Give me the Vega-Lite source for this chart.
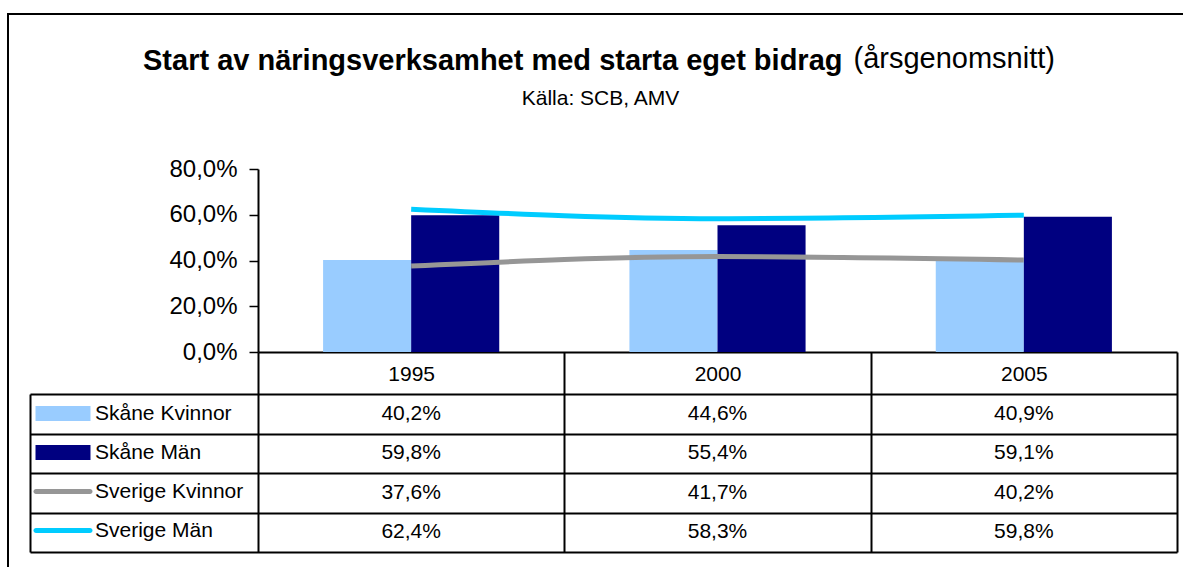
{
  "$schema": "https://vega.github.io/schema/vega-lite/v6.json",
  "width": 1178,
  "height": 556,
  "autosize": {"type": "none"},
  "padding": {"left": 8, "top": 14, "right": 0, "bottom": 0},
  "background": "white",
  "config": {
    "font": "Liberation Sans",
    "view": {"stroke": "#000000", "strokeWidth": 2},
    "locale": {"number": {"decimal": ",", "thousands": " ", "grouping": [3], "currency": ["", " kr"]}},
    "axis": {"labelColor": "#000000", "domainColor": "#000000", "tickColor": "#000000", "titleColor": "#000000", "grid": false}
  },
  "title": {
    "text": "Start av näringsverksamhet med starta eget bidrag",
    "anchor": "start",
    "frame": "group",
    "dx": 135,
    "offset": -85,
    "baseline": "alphabetic",
    "fontSize": 29,
    "fontWeight": "bold",
    "color": "#000000",
    "font": "Liberation Sans"
  },
  "data": {
    "values": [
      {"year": "1995", "region": "Skåne", "series": "Skåne Kvinnor", "value": 0.402},
      {"year": "1995", "region": "Skåne", "series": "Skåne Män", "value": 0.598},
      {"year": "1995", "region": "Sverige", "series": "Sverige Kvinnor", "value": 0.376},
      {"year": "1995", "region": "Sverige", "series": "Sverige Män", "value": 0.624},
      {"year": "2000", "region": "Skåne", "series": "Skåne Kvinnor", "value": 0.446},
      {"year": "2000", "region": "Skåne", "series": "Skåne Män", "value": 0.554},
      {"year": "2000", "region": "Sverige", "series": "Sverige Kvinnor", "value": 0.417},
      {"year": "2000", "region": "Sverige", "series": "Sverige Män", "value": 0.583},
      {"year": "2005", "region": "Skåne", "series": "Skåne Kvinnor", "value": 0.409},
      {"year": "2005", "region": "Skåne", "series": "Skåne Män", "value": 0.591},
      {"year": "2005", "region": "Sverige", "series": "Sverige Kvinnor", "value": 0.402},
      {"year": "2005", "region": "Sverige", "series": "Sverige Män", "value": 0.598}
    ]
  },
  "encoding": {
    "x": {
      "field": "year",
      "type": "nominal",
      "sort": ["1995", "2000", "2005"],
      "scale": {"type": "band", "range": [250, 1169], "paddingInner": 0, "paddingOuter": 0},
      "axis": {
        "orient": "bottom",
        "offset": -218,
        "tickBand": "extent",
        "tickSize": 200,
        "tickWidth": 2,
        "domainWidth": 2,
        "labelFontSize": 21,
        "labelPadding": -178,
        "labelBaseline": "middle",
        "labelAngle": 0,
        "title": null,
        "grid": false
      }
    }
  },
  "layer": [
    {
      "layer": [
        {
          "transform": [{"filter": {"field": "region", "equal": "Skåne"}}],
          "mark": {"type": "bar"},
          "encoding": {
            "xOffset": {
              "field": "series",
              "type": "nominal",
              "sort": ["Skåne Kvinnor", "Skåne Män"],
              "scale": {"paddingInner": 0, "paddingOuter": 0.739}
            },
            "y": {
              "field": "value",
              "type": "quantitative",
              "scale": {"domain": [0, 0.8], "range": [338, 155], "nice": false},
              "axis": {
                "orient": "left",
                "offset": -250,
                "values": [0, 0.2, 0.4, 0.6, 0.8],
                "format": ".1%",
                "labelFontSize": 24,
                "labelPadding": 12,
                "tickSize": 9,
                "tickWidth": 1.5,
                "domainWidth": 2,
                "grid": false,
                "title": "Källa: SCB, AMV",
                "titleAngle": 0,
                "titleX": 342,
                "titleY": 90,
                "titleAlign": "center",
                "titleBaseline": "alphabetic",
                "titleFontSize": 21,
                "titleFontWeight": "normal"
              }
            },
            "fill": {
              "field": "series",
              "type": "nominal",
              "scale": {"domain": ["Skåne Kvinnor", "Skåne Män"], "range": ["#99CCFF", "#000080"]},
              "legend": null
            }
          }
        },
        {
          "transform": [{"filter": {"field": "region", "equal": "Sverige"}}],
          "mark": {"type": "line", "strokeWidth": 5, "interpolate": "monotone"},
          "encoding": {
            "y": {"field": "value", "type": "quantitative"},
            "stroke": {
              "field": "series",
              "type": "nominal",
              "scale": {"domain": ["Sverige Kvinnor", "Sverige Män"], "range": ["#969696", "#00CCFF"]},
              "legend": null
            }
          }
        },
        {
          "mark": {"type": "point", "filled": true, "opacity": 0},
          "encoding": {
            "y": {"field": "value", "type": "quantitative"},
            "color": {
              "field": "series",
              "type": "nominal",
              "scale": {
                "domain": ["Skåne Kvinnor", "Skåne Män", "Sverige Kvinnor", "Sverige Män"],
                "range": ["#99CCFF", "#000080", "#969696", "#00CCFF"]
              },
              "legend": {
                "orient": "none",
                "legendX": 35.5,
                "legendY": 380,
                "title": null,
                "direction": "vertical",
                "symbolSize": 1521,
                "symbolStrokeWidth": 0,
                "symbolOpacity": 1,
                "rowPadding": 9,
                "labelOffset": 12.5,
                "labelFontSize": 21,
                "labelColor": "#000000",
                "labelLimit": 0,
                "padding": 0
              }
            },
            "shape": {
              "field": "series",
              "type": "nominal",
              "scale": {
                "domain": ["Skåne Kvinnor", "Skåne Män", "Sverige Kvinnor", "Sverige Män"],
                "range": [
                  "M-1.41,-0.385H1.41V0.385H-1.41Z",
                  "M-1.41,-0.385H1.41V0.385H-1.41Z",
                  "M-1.385,-0.128H1.385A0.128,0.128,0,0,1,1.385,0.128H-1.385A0.128,0.128,0,0,1,-1.385,-0.128Z",
                  "M-1.385,-0.128H1.385A0.128,0.128,0,0,1,1.385,0.128H-1.385A0.128,0.128,0,0,1,-1.385,-0.128Z"
                ]
              },
              "legend": {
                "orient": "none",
                "legendX": 35.5,
                "legendY": 380,
                "title": null,
                "direction": "vertical",
                "symbolSize": 1521,
                "symbolStrokeWidth": 0,
                "symbolOpacity": 1,
                "rowPadding": 9,
                "labelOffset": 12.5,
                "labelFontSize": 21,
                "labelColor": "#000000",
                "labelLimit": 0,
                "padding": 0
              }
            }
          }
        }
      ]
    },
    {
      "mark": {"type": "text", "fontSize": 21, "color": "#000000"},
      "encoding": {
        "y": {
          "field": "series",
          "type": "nominal",
          "sort": ["Skåne Kvinnor", "Skåne Män", "Sverige Kvinnor", "Sverige Män"],
          "scale": {"type": "band", "range": [380, 538], "paddingInner": 0, "paddingOuter": 0},
          "axis": {
            "orient": "right",
            "offset": -1156,
            "tickBand": "extent",
            "tickSize": 1147,
            "tickWidth": 2,
            "domainWidth": 2,
            "labels": false,
            "grid": false,
            "title": "(årsgenomsnitt)",
            "titleAngle": 0,
            "titleX": 823,
            "titleY": 53,
            "titleAlign": "left",
            "titleBaseline": "alphabetic",
            "titleFontSize": 29,
            "titleFontWeight": "normal"
          }
        },
        "text": {"field": "value", "type": "quantitative", "format": ".1%"}
      }
    }
  ],
  "resolve": {"scale": {"y": "independent"}}
}
